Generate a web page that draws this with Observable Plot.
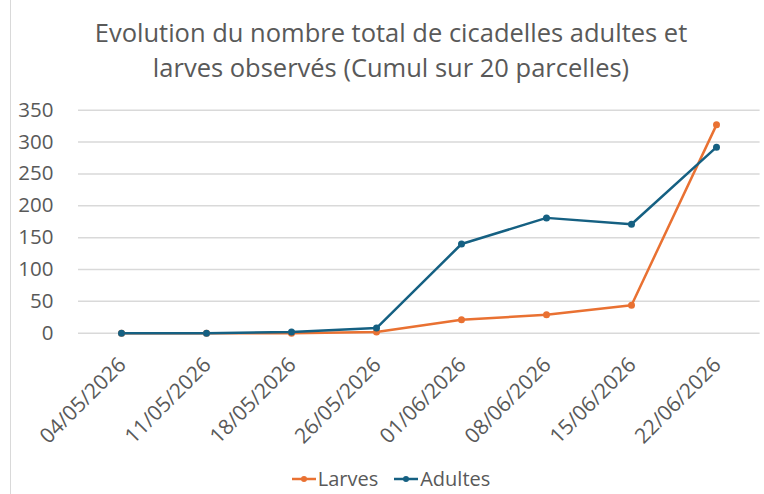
<!DOCTYPE html>
<html>
<head>
<meta charset="utf-8">
<script src="https://cdn.jsdelivr.net/npm/d3@7"></script>
<script src="https://cdn.jsdelivr.net/npm/@observablehq/plot@0.6"></script>
<style>
  body { margin: 0; background: #fff; }
  #wrap { position: relative; width: 764px; height: 494px; overflow: hidden; background: #fff; font-family: "Open Sans", sans-serif; }
  #edge { position: absolute; left: 10px; top: 0; width: 1px; height: 494px; background: #d9d9d9; }
  #title { position: absolute; left: 18px; top: 15px; width: 746px; text-align: center; font-size: 25.5px; line-height: 35px; color: #595959; }
  #chart { position: absolute; left: 0; top: 90px; }
  #legend { position: absolute; left: 18px; top: 462px; width: 746px; text-align: center; font-size: 20px; color: #595959; line-height: 30px; }
  .item { display: inline-flex; align-items: center; margin: 0 8px; }
  .item svg { margin-right: 2px; }
</style>
</head>
<body>
<div id="wrap">
  <div id="edge"></div>
  <div id="title">Evolution du nombre total de cicadelles adultes et<br>larves observés (Cumul sur 20 parcelles)</div>
  <div id="chart"></div>
  <div id="legend"></div>
</div>
<script>
const dates = ["04/05/2026","11/05/2026","18/05/2026","26/05/2026","01/06/2026","08/06/2026","15/06/2026","22/06/2026"];
const larves = [0, 0, 0, 2, 21, 29, 44, 327];
const adultes = [0, 0, 2, 8, 140, 181, 171, 292];
const seriesNames = ["Larves", "Adultes"];
const seriesColors = ["#E97132", "#156082"];
const yTicks = [0, 50, 100, 150, 200, 250, 300, 350];

const rows = [];
dates.forEach((d, i) => rows.push({date: d, value: larves[i], serie: "Larves"}));
dates.forEach((d, i) => rows.push({date: d, value: adultes[i], serie: "Adultes"}));

const chart = Plot.plot({
  width: 764,
  height: 372,
  marginLeft: 78,
  marginRight: 4.4,
  marginTop: 19.7,
  marginBottom: 129.3,
  style: {fontFamily: "Open Sans, sans-serif", color: "#595959", background: "transparent"},
  x: {type: "point", domain: dates, padding: 0.5},
  y: {domain: [0, 350]},
  color: {domain: seriesNames, range: seriesColors},
  marks: [
    Plot.gridY(yTicks, {stroke: "#d9d9d9", strokeOpacity: 1, strokeWidth: 1.5}),
    Plot.axisY(yTicks, {tickSize: 0, tickPadding: 25, fontSize: 20.5, label: null, fill: "#595959"}),
    Plot.axisX({tickSize: 0, tickRotate: -45, tickPadding: 28, fontSize: 21, label: null, fill: "#595959", dx: 1}),
    Plot.line(rows, {x: "date", y: "value", z: "serie", stroke: "serie", strokeWidth: 2.5}),
    Plot.dot(rows, {x: "date", y: "value", fill: "serie", r: 3.5})
  ]
});
document.getElementById("chart").appendChild(chart);

const legend = document.getElementById("legend");
seriesNames.forEach((name, i) => {
  const span = document.createElement("span");
  span.className = "item";
  span.innerHTML = `<svg width="24" height="10"><line x1="0" y1="5" x2="24" y2="5" stroke="${seriesColors[i]}" stroke-width="2.5"/><circle cx="12" cy="5" r="3" fill="${seriesColors[i]}"/></svg>${name}`;
  legend.appendChild(span);
});
</script>
</body>
</html>
